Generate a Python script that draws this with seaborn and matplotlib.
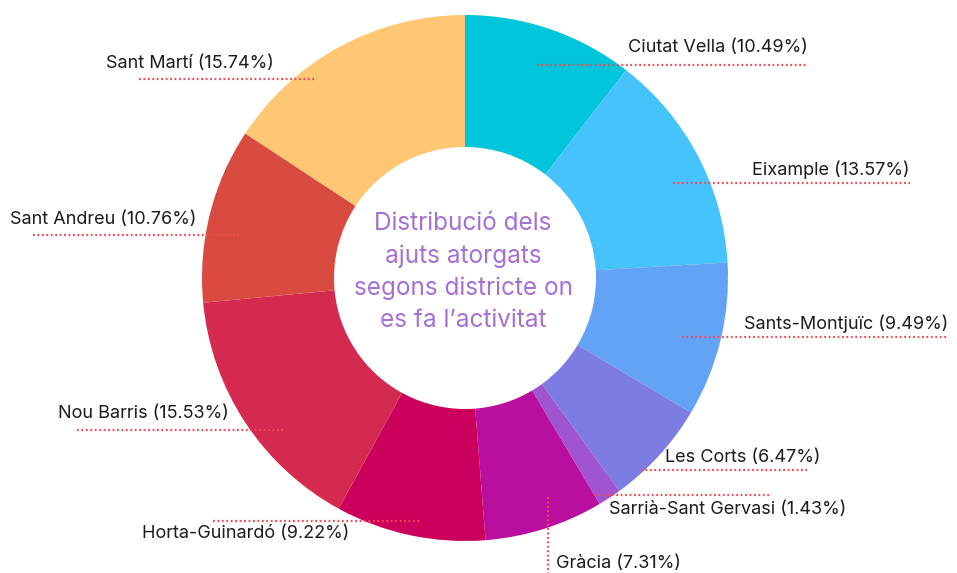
import matplotlib
matplotlib.use("Agg")
import matplotlib.pyplot as plt
import seaborn as sns

# District shares (%) clockwise from the top
districts = ["Ciutat Vella", "Eixample", "Sants-Montjuïc", "Les Corts",
             "Sarrià-Sant Gervasi", "Gràcia", "Horta-Guinardó", "Nou Barris",
             "Sant Andreu", "Sant Martí"]
shares = [10.49, 13.57, 9.49, 6.47, 1.43, 7.31, 9.22, 15.53, 10.76, 15.74]
colors = ["#00C5DB", "#47C3FB", "#63A3F5", "#7C7CE2", "#9E55CF",
          "#B90F9E", "#CB005D", "#D42A4F", "#D94B41", "#FFC774"]
center_title = "Distribució dels\najuts atorgats\nsegons districte on\nes fa l’activitat"

# label layout in pixel space (x, y down): text x, text y, alignment, leader line
text_x = [808, 910, 948, 665, 609, 556, 142, 58, 10, 106]
text_y = [48, 170, 324, 458, 509, 563, 533, 413, 220, 63]
text_ha = ["right", "right", "right", "left", "left", "left", "left", "left", "left", "left"]
# leader lines: (x0, y0, x1, y1)
leaders = [(537, 65, 808, 65), (673, 183, 910, 183), (682, 337, 948, 337),
           (641, 470, 807, 470), (594, 495, 770, 495), (548, 497, 548, 573),
           (213, 521, 420, 521), (77, 430, 283, 430), (33, 235, 241, 235),
           (139, 79, 315, 79)]

sns.set_theme(style="white")
plt.rcParams["font.family"] = ["Inter", "DejaVu Sans"]

W, H = 957, 573
fig = plt.figure(figsize=(W / 100, H / 100), dpi=100)
ax = fig.add_axes([0, 0, 1, 1])

cx, cy, R, ring = 465, 278, 263, 132
# y axis is inverted below, so counterclock=True runs clockwise on screen
ax.pie(shares, colors=colors, radius=R, center=(cx, cy), startangle=-90,
       counterclock=True, wedgeprops=dict(width=ring, linewidth=0))

ax.set_xlim(0, W)
ax.set_ylim(H, 0)
ax.set_aspect("equal")
ax.axis("off")

for name, val, tx, ty, ha, (x0, y0, x1, y1) in zip(districts, shares, text_x, text_y,
                                                      text_ha, leaders):
    ax.plot([x0, x1], [y0, y1], color="#F04A55", lw=1.6,
            linestyle=(0, (0.8, 1.2)), zorder=3, solid_capstyle="butt")
    ax.text(tx, ty, f"{name} ({val:.2f}%)", ha=ha, va="center",
            fontsize=13, color="#1C1C1C", zorder=4)

ax.text(cx - 2, cy - 6, center_title, ha="center", va="center", fontsize=17.5,
        color="#A56FD6", linespacing=1.5, zorder=4)

fig.savefig("out.png", dpi=100)
